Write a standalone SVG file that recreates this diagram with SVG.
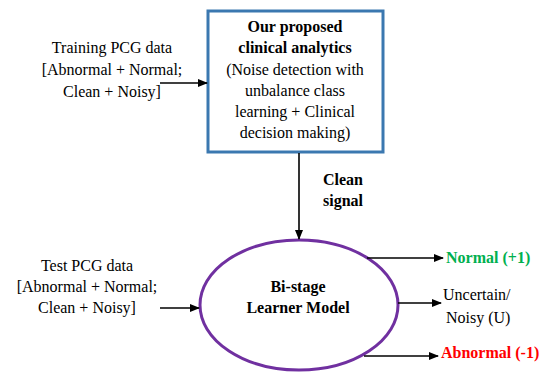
<svg xmlns="http://www.w3.org/2000/svg" width="552" height="373" viewBox="0 0 552 373">
<style>
text{font-family:"Times New Roman","Liberation Serif",Tinos,serif;font-size:16px;fill:#000}
.b{font-weight:bold}
.c{text-anchor:middle}
.ln{stroke:#000;stroke-width:1.6;fill:none;marker-end:url(#ah)}
</style>
<defs>
<marker id="ah" markerWidth="10" markerHeight="8" refX="9" refY="4" orient="auto" markerUnits="userSpaceOnUse">
<path d="M0,0 L10,4 L0,8 Z" fill="#000"/>
</marker>
</defs>
<rect width="552" height="373" fill="#fff"/>
<g id="training">
<text class="c" x="112" y="53">Training PCG data</text>
<text class="c" x="112" y="75">[Abnormal + Normal;</text>
<text class="c" x="112" y="97">Clean + Noisy]</text>
</g>
<g id="analytics">
<rect x="208" y="11" width="175" height="141" fill="#fff" stroke="#3b78b0" stroke-width="3"/>
<text class="c b" x="295" y="32">Our proposed</text>
<text class="c b" x="295" y="53">clinical analytics</text>
<text class="c" x="295" y="75">(Noise detection with</text>
<text class="c" x="295" y="96">unbalance class</text>
<text class="c" x="295" y="117">learning + Clinical</text>
<text class="c" x="295" y="138">decision making)</text>
</g>
<g id="test">
<text class="c" x="87" y="271">Test PCG data</text>
<text class="c" x="87" y="292">[Abnormal + Normal;</text>
<text class="c" x="87" y="313">Clean + Noisy]</text>
</g>
<g id="learner">
<ellipse cx="299" cy="305" rx="99" ry="65" fill="#fff" stroke="#7030a0" stroke-width="3"/>
<text class="c b" x="298" y="292">Bi-stage</text>
<text class="c b" x="298" y="313">Learner Model</text>
</g>
<g id="outputs">
<text class="b" x="446" y="263" style="fill:#00b050">Normal (+1)</text>
<text x="443" y="300">Uncertain/</text>
<text x="446" y="323">Noisy (U)</text>
<text class="b" x="441" y="358" style="fill:#ff0000">Abnormal (-1)</text>
</g>
<g id="edge-label">
<text class="b" x="323" y="185">Clean</text>
<text class="b" x="323" y="206">signal</text>
</g>
<g id="connectors">
<line class="ln" x1="160" y1="83" x2="207" y2="83"/>
<line class="ln" x1="299" y1="153" x2="299" y2="239"/>
<line class="ln" x1="160" y1="308" x2="199" y2="308"/>
<line class="ln" x1="367" y1="258" x2="443" y2="258"/>
<line class="ln" x1="398" y1="303" x2="441" y2="303"/>
<line class="ln" x1="364" y1="356" x2="438" y2="356"/>
</g>
</svg>
